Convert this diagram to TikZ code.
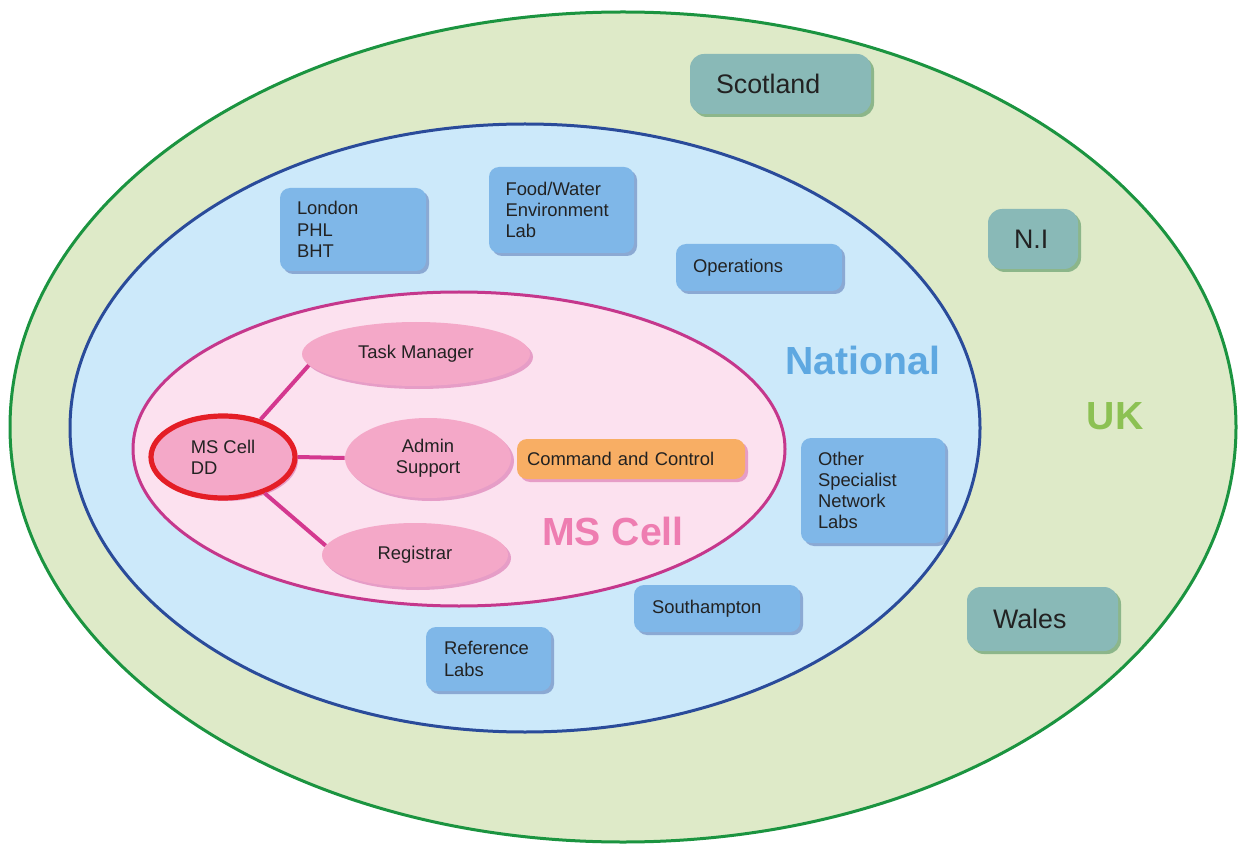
\documentclass[tikz,border=0pt]{standalone}
\usepackage{fontspec}
\setmainfont{Liberation Sans}
\usetikzlibrary{shapes.geometric,shadows}
\definecolor{ukfill}{HTML}{DEEAC8}
\definecolor{ukline}{HTML}{1B9440}
\definecolor{natfill}{HTML}{CCE9FA}
\definecolor{natline}{HTML}{2A4B9A}
\definecolor{msfill}{HTML}{FCE1EF}
\definecolor{msline}{HTML}{C5378C}
\definecolor{pinkfill}{HTML}{F4A8C8}
\definecolor{bluebox}{HTML}{7FB7E8}
\definecolor{tealbox}{HTML}{89B9B7}
\definecolor{orangebox}{HTML}{F8AE64}
\definecolor{nattext}{HTML}{5EA8E1}
\definecolor{uktext}{HTML}{8CC153}
\definecolor{mstext}{HTML}{EE7DB1}
\definecolor{ddred}{HTML}{E41E26}
\definecolor{linkpink}{HTML}{D4388F}
\definecolor{txt}{HTML}{222222}
\tikzset{
  region/.style={ellipse, inner sep=0pt, line width=1.5pt},
  smalltext/.style={font=\fontsize{9.2}{10.6}\selectfont, text=txt},
  bluestyle/.style={rectangle, rounded corners=5pt, fill=bluebox, inner sep=0pt, smalltext, align=left,
     drop shadow={shadow xshift=1.5pt, shadow yshift=-1.5pt, fill=natline, opacity=0.4}},
  tealstyle/.style={rectangle, rounded corners=7pt, fill=tealbox, inner sep=0pt, align=left,
     font=\fontsize{13.4}{16}\selectfont, text=txt,
     drop shadow={shadow xshift=1.5pt, shadow yshift=-1.5pt, fill=ukline!70!black, opacity=0.4}},
  pinkstyle/.style={ellipse, fill=pinkfill, inner sep=0pt, smalltext, align=center,
     drop shadow={shadow xshift=1.5pt, shadow yshift=-1.5pt, fill=msline, opacity=0.4}},
  orangestyle/.style={rectangle, rounded corners=5pt, fill=orangebox, inner sep=0pt, smalltext, align=left,
     drop shadow={shadow xshift=1.5pt, shadow yshift=-1.5pt, fill=msline, opacity=0.4}},
  biglabel/.style={font=\fontsize{19.6}{22}\selectfont\bfseries},
  link/.style={draw=linkpink, line width=2pt}
}
\begin{document}
\begin{tikzpicture}[x=0.5pt,y=-0.5pt]
\useasboundingbox (0,0) rectangle (1241,844);
\fill[white] (0,0) rectangle (1241,844);
% regions
\node[region, draw=ukline, fill=ukfill, minimum width=613pt, minimum height=415pt] (uk) at (623,427) {};
\node[region, draw=natline, fill=natfill, minimum width=455pt, minimum height=304pt] (national) at (525,428) {};
\node[region, draw=msline, fill=msfill, minimum width=326pt, minimum height=157pt] (mscell) at (459,449) {};
% region labels
\node[biglabel, text=nattext] (natlabel) at (863,360) {National};
\node[biglabel, text=uktext] (uklabel) at (1115,416) {UK};
\node[biglabel, text=mstext] (mslabel) at (613,531) {MS Cell};
% teal boxes
\node[tealstyle, minimum width=90.5pt, minimum height=30pt, text width=64.5pt] (scotland) at (780.5,84) {Scotland};
\node[tealstyle, minimum width=45pt, minimum height=30pt, text width=19pt] (ni) at (1033,239) {N.I};
\node[tealstyle, minimum width=75.5pt, minimum height=32pt, text width=49.5pt] (wales) at (1042.5,619) {Wales};
% blue boxes
\node[bluestyle, minimum width=73pt, minimum height=41.5pt, text width=56pt] (london) at (353,229.5) {London\\PHL\\BHT};
\node[bluestyle, minimum width=72.5pt, minimum height=43pt, text width=56pt] (food) at (561.5,210) {Food/Water\\Environment\\Lab};
\node[bluestyle, minimum width=83pt, minimum height=23.5pt, text width=66pt] (ops) at (759,267.5) {Operations};
\node[bluestyle, minimum width=72pt, minimum height=52.5pt, text width=55pt] (other) at (873,490.5) {Other\\Specialist\\Network\\Labs};
\node[bluestyle, minimum width=83pt, minimum height=23.5pt, text width=65pt] (southampton) at (717,608.5) {Southampton};
\node[bluestyle, minimum width=62.5pt, minimum height=32pt, text width=44.5pt] (reflabs) at (488.5,659) {Reference\\Labs};
% pink nodes
\node[pinkstyle, minimum width=114pt, minimum height=32pt] (tm) at (416,354) {Task Manager};
\node[pinkstyle, minimum width=83pt, minimum height=40pt] (admin) at (428,458) {Admin\\Support};
\node[pinkstyle, minimum width=93pt, minimum height=32pt] (reg) at (415,555) {Registrar};
\node[orangestyle, minimum width=114pt, minimum height=20pt, text width=104pt] (cc) at (631,459) {Command and Control};
\node[pinkstyle, draw=ddred, line width=2.6pt, align=left, minimum width=72pt, minimum height=41pt] (dd) at (223,457) {MS Cell\\DD};
% links
\draw[link] (dd.45) -- (tm.186);
\draw[link] (dd.east) -- (admin.west);
\draw[link] (dd.-41) -- (reg.174);
\end{tikzpicture}
\end{document}
